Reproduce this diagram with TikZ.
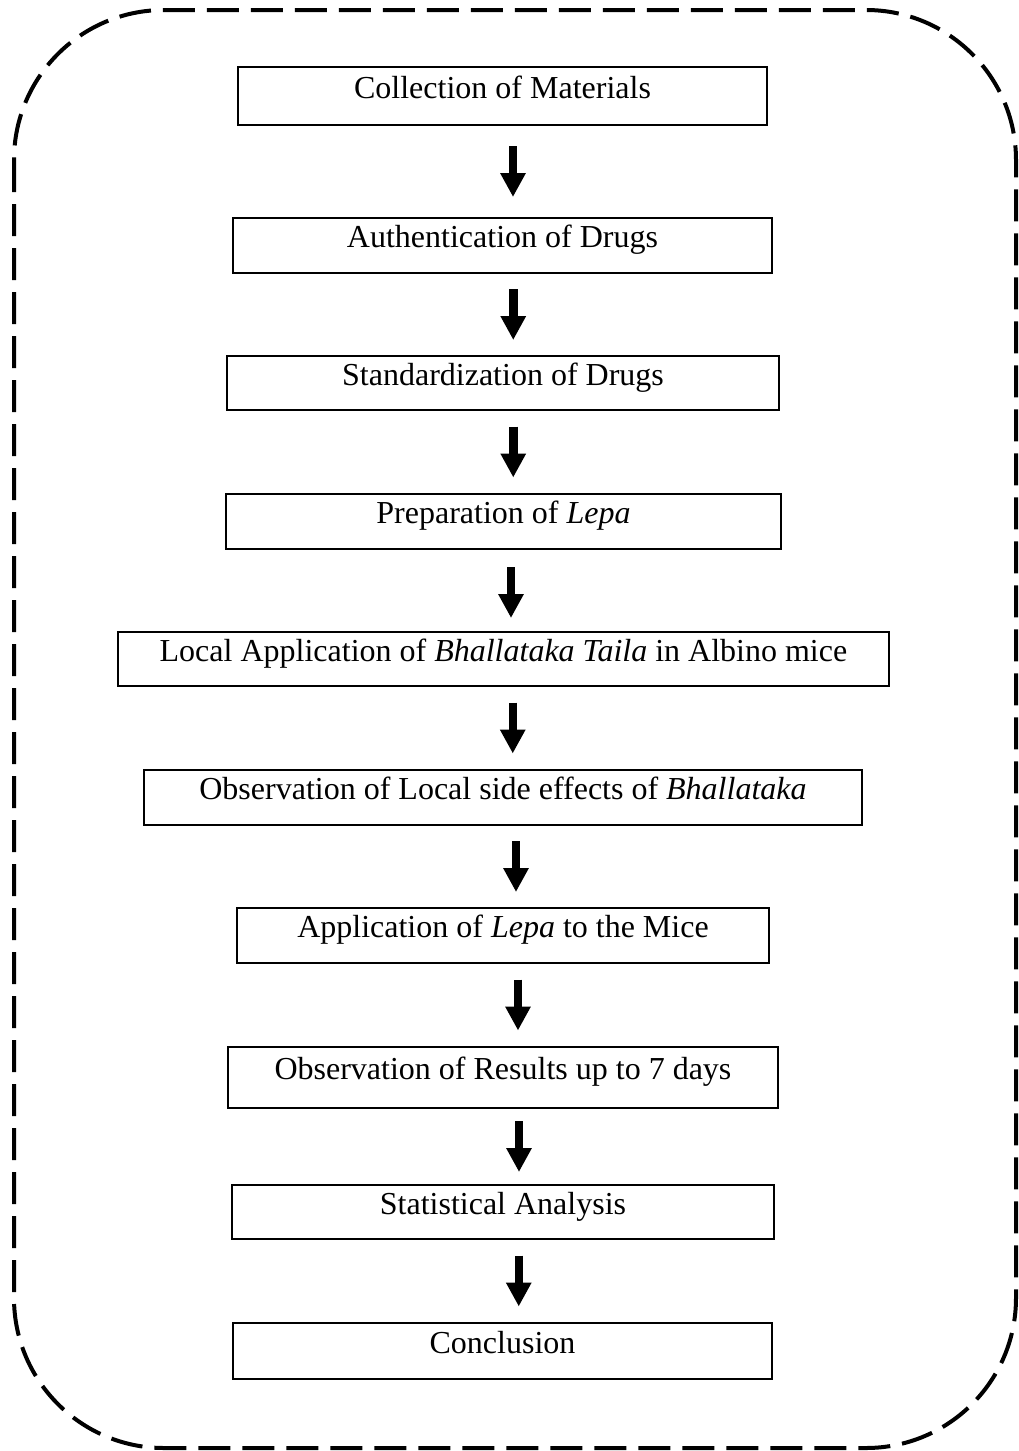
\documentclass[tikz,border=0pt]{standalone}
\usepackage{fontspec}
\setmainfont{Liberation Serif}
\usetikzlibrary{arrows.meta,calc}
\begin{document}
\begin{tikzpicture}[x=1pt,y=-1pt,
  stepbox/.style={draw,line width=2.2pt,rectangle,inner sep=0pt,
    font=\fontsize{32}{38}\selectfont,text height=24pt,text depth=20pt,anchor=center},
  bigarrow/.style={line width=8.5pt,-{Triangle[length=24pt,width=24pt]}},
  frame/.style={line width=4pt,dash pattern=on 32pt off 12pt,rounded corners=150pt}]
\useasboundingbox (0,0) rectangle (1018,1451);
\draw[frame] (14,10) rectangle (1016,1448);
\node[stepbox,minimum width=529pt,minimum height=58pt] (s1) at (502.5,96) {Collection of Materials};
\node[stepbox,minimum width=539pt,minimum height=55pt] (s2) at (502.5,245.5) {Authentication of Drugs};
\node[stepbox,minimum width=552pt,minimum height=54pt] (s3) at (503,383) {Standardization of Drugs};
\node[stepbox,minimum width=555pt,minimum height=55pt] (s4) at (503.5,521.5) {Preparation of \textit{Lepa}};
\node[stepbox,minimum width=771pt,minimum height=54pt] (s5) at (503.5,659) {Local Application of \textit{Bhallataka Taila} in Albino mice};
\node[stepbox,minimum width=718pt,minimum height=55pt] (s6) at (503,797.5) {Observation of Local side effects of \textit{Bhallataka}};
\node[stepbox,minimum width=532pt,minimum height=55pt] (s7) at (503,935.5) {Application of \textit{Lepa} to the Mice};
\node[stepbox,minimum width=550pt,minimum height=61pt] (s8) at (503,1077.5) {Observation of Results up to 7 days};
\node[stepbox,minimum width=542pt,minimum height=54pt] (s9) at (503,1212) {Statistical Analysis};
\node[stepbox,minimum width=539pt,minimum height=56pt] (s10) at (502.5,1351) {Conclusion};
\draw[bigarrow] ($(s1.south)!0.5!(s2.north)+(10.5,-25.5)$) -- ++(0,51);
\draw[bigarrow] ($(s2.south)!0.5!(s3.north)+(10.5,-25.5)$) -- ++(0,51);
\draw[bigarrow] ($(s3.south)!0.5!(s4.north)+(10,-25.5)$) -- ++(0,51);
\draw[bigarrow] ($(s4.south)!0.5!(s5.north)+(7.5,-23.5)$) -- ++(0,51);
\draw[bigarrow] ($(s5.south)!0.5!(s6.north)+(9.5,-25.5)$) -- ++(0,51);
\draw[bigarrow] ($(s6.south)!0.5!(s7.north)+(13,-25.5)$) -- ++(0,51);
\draw[bigarrow] ($(s7.south)!0.5!(s8.north)+(15,-25.5)$) -- ++(0,51);
\draw[bigarrow] ($(s8.south)!0.5!(s9.north)+(16,-25.5)$) -- ++(0,51);
\draw[bigarrow] ($(s9.south)!0.5!(s10.north)+(16,-25.5)$) -- ++(0,51);
\end{tikzpicture}
\end{document}
